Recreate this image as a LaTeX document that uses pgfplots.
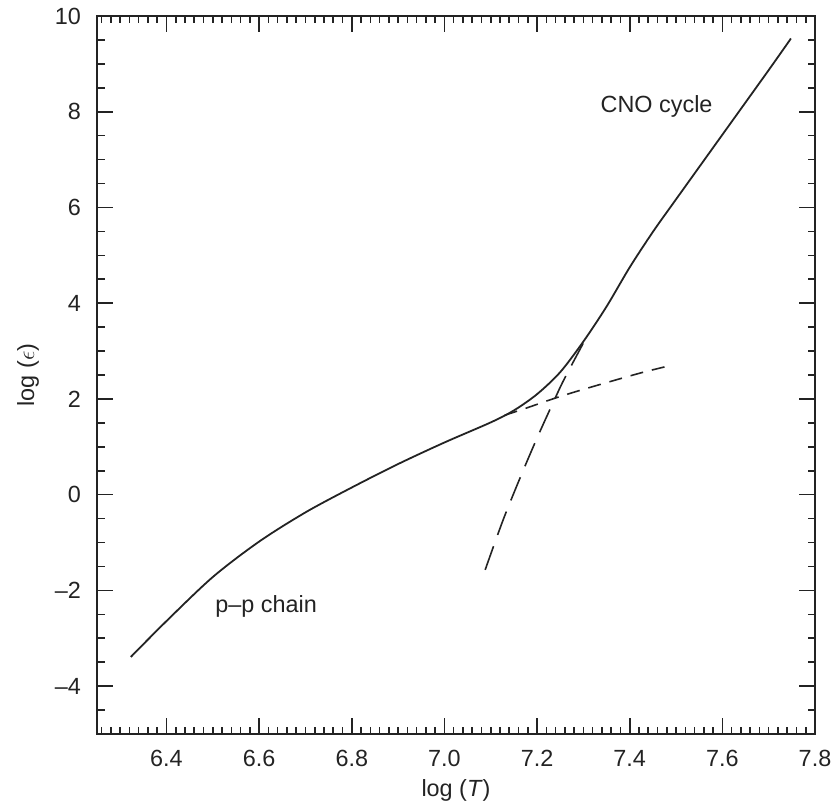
\documentclass[border=0pt]{standalone}
\usepackage{fontspec}
\setmainfont{Liberation Sans}
\usepackage{pgfplots}
\pgfplotsset{compat=1.18}
\definecolor{ink}{RGB}{35,35,35}
\begin{document}
\begin{tikzpicture}
\begin{axis}[
  scale only axis, width=359pt, height=359pt,
  xmin=6.25, xmax=7.8, ymin=-5, ymax=10,
  axis line style={ink, line width=1pt},
  every tick/.style={ink, line width=0.8pt},
  tick align=inside,
  major tick length=8pt, minor tick length=3.75pt,
  xtick={6.4,6.6,6.8,7.0,7.2,7.4,7.6,7.8},
  xticklabels={6.4,6.6,6.8,7.0,7.2,7.4,7.6,7.8},
  minor xtick={6.26,6.28,6.30,6.32,6.34,6.36,6.38,6.42,6.44,6.46,6.48,6.50,6.52,6.54,6.56,6.58,6.62,6.64,6.66,6.68,6.70,6.72,6.74,6.76,6.78,6.82,6.84,6.86,6.88,6.90,6.92,6.94,6.96,6.98,7.02,7.04,7.06,7.08,7.10,7.12,7.14,7.16,7.18,7.22,7.24,7.26,7.28,7.30,7.32,7.34,7.36,7.38,7.42,7.44,7.46,7.48,7.50,7.52,7.54,7.56,7.58,7.62,7.64,7.66,7.68,7.70,7.72,7.74,7.76,7.78},
  ytick={-4,-2,0,2,4,6,8,10},
  yticklabels={–4,–2,0,2,4,6,8,10},
  minor ytick={-4.5,-3.5,-3,-2.5,-1.5,-1,-0.5,0.5,1,1.5,2.5,3,3.5,4.5,5,5.5,6.5,7,7.5,8.5,9,9.5},
  ticklabel style={font=\fontsize{11.7}{13}\selectfont, text=ink},
  xticklabel style={yshift=-4.5pt},
  yticklabel style={xshift=-4.5pt},
  xlabel={log (\textit{T})},
  ylabel={log ($\epsilon$)},
  label style={font=\fontsize{11.7}{13}\selectfont, text=ink},
  xlabel style={at={(axis description cs:0.5,-0.078)}, anchor=center},
  ylabel style={at={(axis description cs:-0.096,0.5)}, anchor=center},
  clip=false,
]
% total (solid)
\addplot[ink, line width=0.9pt, smooth, tension=0.5] coordinates {
(6.323,-3.39) (6.40,-2.64) (6.50,-1.72) (6.60,-0.98) (6.70,-0.37) (6.80,0.15)
(6.90,0.64) (7.00,1.09) (7.10,1.51) (7.15,1.76) (7.20,2.10) (7.25,2.56) (7.30,3.20)
(7.35,3.93) (7.40,4.75) (7.45,5.49) (7.50,6.17) (7.60,7.52) (7.70,8.87) (7.748,9.53)};
% p-p chain continuation (dashed)
\addplot[ink, line width=0.8pt, smooth, dash pattern=on 6.5pt off 4.5pt] coordinates {
(7.13,1.66) (7.171,1.79) (7.243,2.03) (7.30,2.2) (7.364,2.38) (7.43,2.56) (7.493,2.71)};
% CNO cycle (long dashed)
\addplot[ink, line width=0.8pt, smooth, dash pattern=on 12.5pt off 6pt] coordinates {
(7.088,-1.57) (7.127,-0.52) (7.168,0.46) (7.203,1.25) (7.243,2.10) (7.26,2.44) (7.30,3.17)};
\node[font=\fontsize{11.7}{13}\selectfont, text=ink] at (axis cs:7.458,8.12) {CNO cycle};
\node[font=\fontsize{11.7}{13}\selectfont, text=ink] at (axis cs:6.615,-2.34) {p–p chain};
\end{axis}
\path (current axis.south west) ++(-48.5pt,-37.5pt) coordinate (BBA);
\path (current axis.north east) ++(8.5pt,8pt) coordinate (BBB);
\pgfresetboundingbox
\useasboundingbox (BBA) rectangle (BBB);
\end{tikzpicture}
\end{document}
